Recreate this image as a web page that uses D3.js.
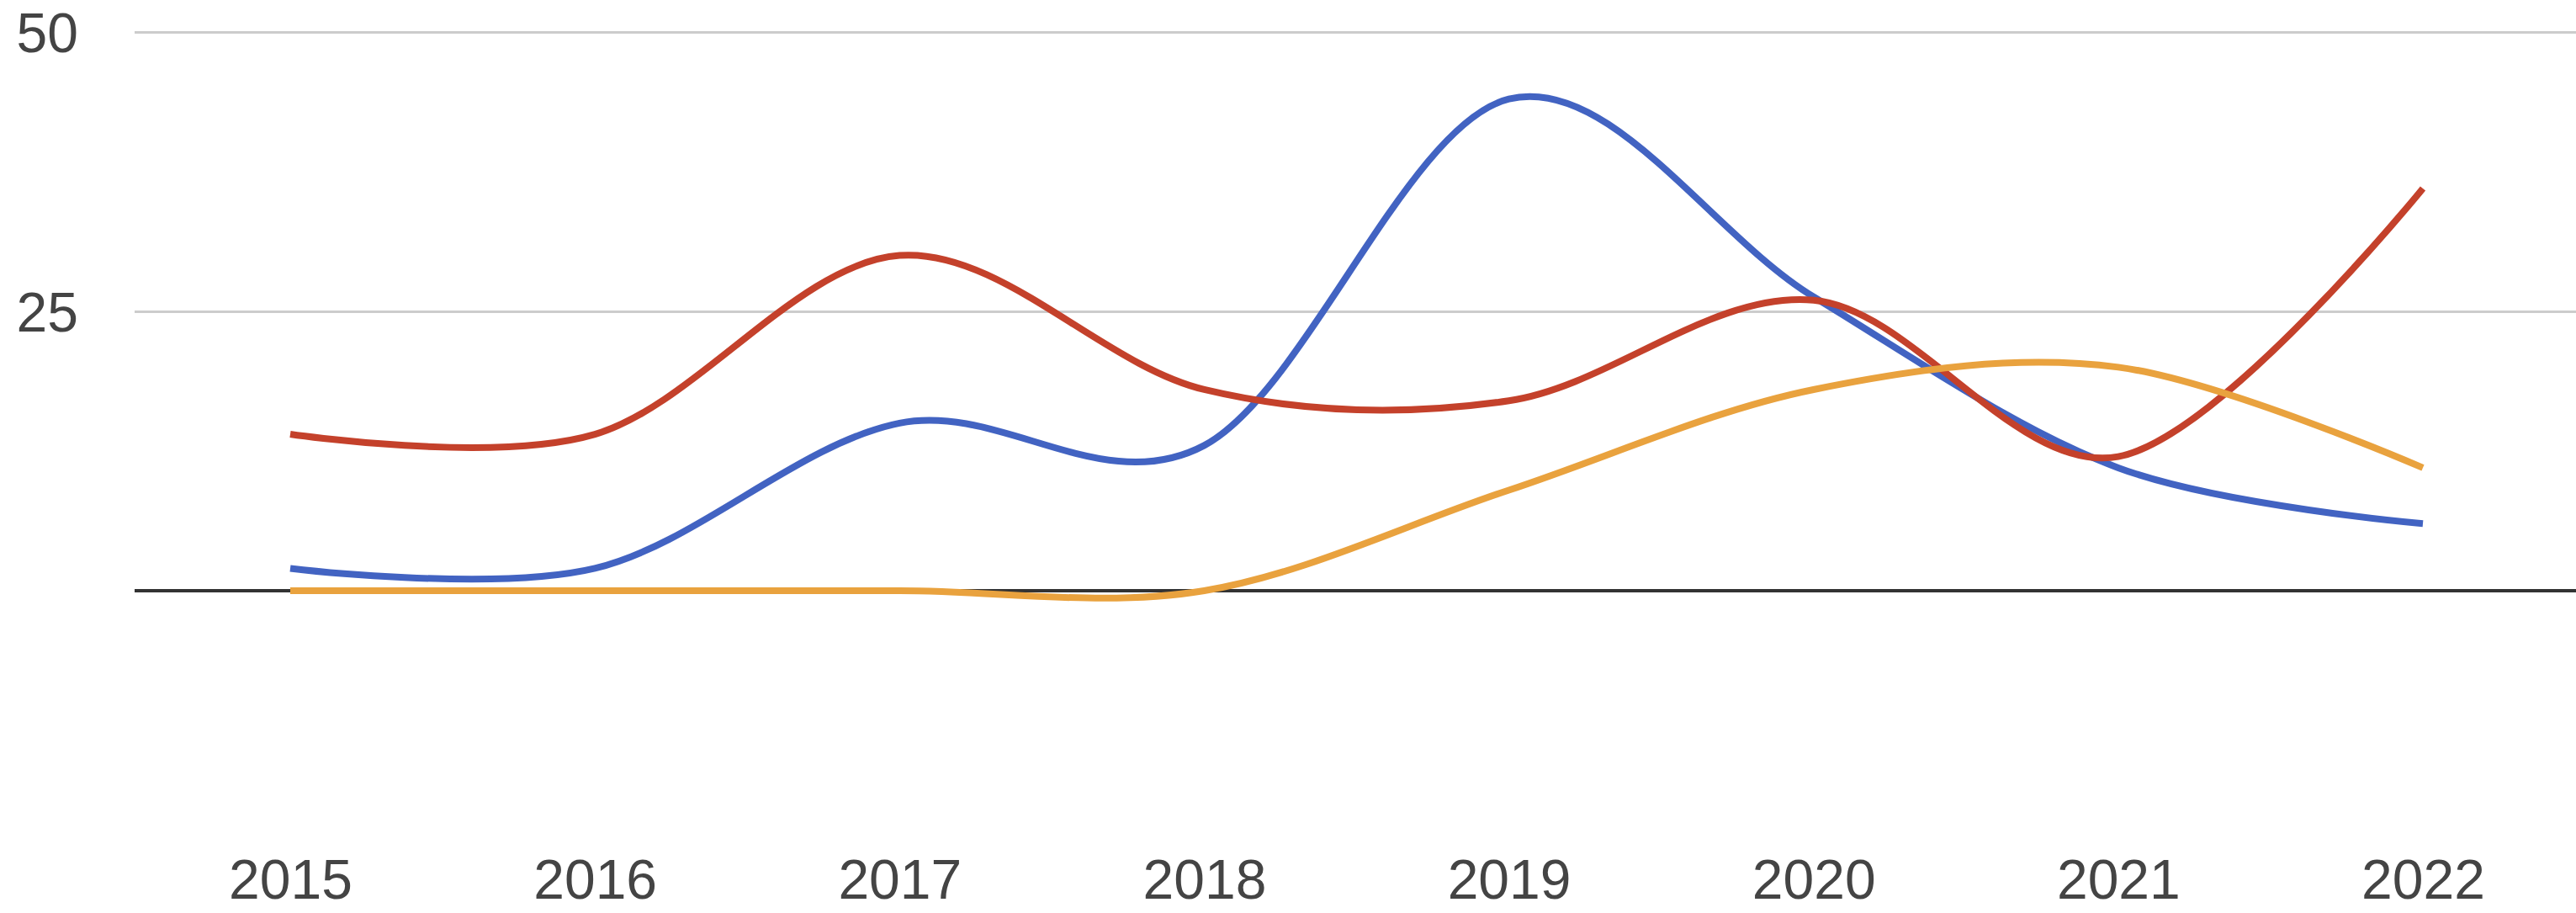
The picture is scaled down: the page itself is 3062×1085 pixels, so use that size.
<!DOCTYPE html>
<html>
<head>
<meta charset="utf-8">
<script src="https://cdn.jsdelivr.net/npm/d3@7"></script>
<style>
  html, body { margin: 0; padding: 0; background: #fff; }
  svg { display: block; }
  .tick text { font-family: "Liberation Sans", Arial, sans-serif; fill: #444; }
</style>
</head>
<body>
<div id="chart"></div>
<script>
const years = ["2015", "2016", "2017", "2018", "2019", "2020", "2021", "2022"];
const blueValues = [2, 2, 15, 13, 44, 26.3, 11, 6];
const redValues = [14, 14, 30, 18, 17, 26, 12, 36];
const orangeValues = [0, 0, 0, 0, 9, 18, 20, 11];
const yTicks = [25, 50];

const width = 3062;
const height = 1085;

const series = [
  { name: "blue", values: blueValues, color: "#4263c2" },
  { name: "red", values: redValues, color: "#c4412b" },
  { name: "orange", values: orangeValues, color: "#e9a23e" },
];

const area = { left: 160, right: width, top: 38, zero: 702 };

const svg = d3
  .select("#chart")
  .append("svg")
  .attr("width", width)
  .attr("height", height);

const xScale = d3.scalePoint().domain(years).range([345, 2880]);
const yScale = d3.scaleLinear().domain([0, 50]).range([area.zero, area.top]);

// gridlines + y labels
const yAxis = svg
  .append("g")
  .attr("transform", `translate(${area.left}, 0)`)
  .call(
    d3.axisLeft(yScale)
      .tickValues(yTicks)
      .tickSize(-(area.right - area.left))
      .tickPadding(67)
  );
yAxis.select(".domain").remove();
yAxis.selectAll(".tick line").attr("stroke", "#cccccc").attr("stroke-width", 3);
yAxis.selectAll(".tick text")
  .attr("font-size", 66)
  .attr("dy", "0.36em");

// baseline
svg
  .append("line")
  .attr("x1", area.left)
  .attr("x2", area.right)
  .attr("y1", yScale(0))
  .attr("y2", yScale(0))
  .attr("stroke", "#333")
  .attr("stroke-width", 4);

// x labels
const xAxis = svg
  .append("g")
  .attr("transform", `translate(0, 1046)`)
  .call(d3.axisBottom(xScale).tickSize(0).tickPadding(0));
xAxis.select(".domain").remove();
xAxis.selectAll(".tick text")
  .attr("font-size", 66)
  .attr("dy", "0.34em");

// lines
const line = d3
  .line()
  .x((d, i) => xScale(years[i]))
  .y((d) => yScale(d))
  .curve(d3.curveCatmullRom.alpha(0));

svg
  .append("g")
  .selectAll("path")
  .data(series)
  .join("path")
  .attr("d", (d) => line(d.values))
  .attr("fill", "none")
  .attr("stroke", (d) => d.color)
  .attr("stroke-width", 8)
  .attr("stroke-linejoin", "round");
</script>
</body>
</html>
